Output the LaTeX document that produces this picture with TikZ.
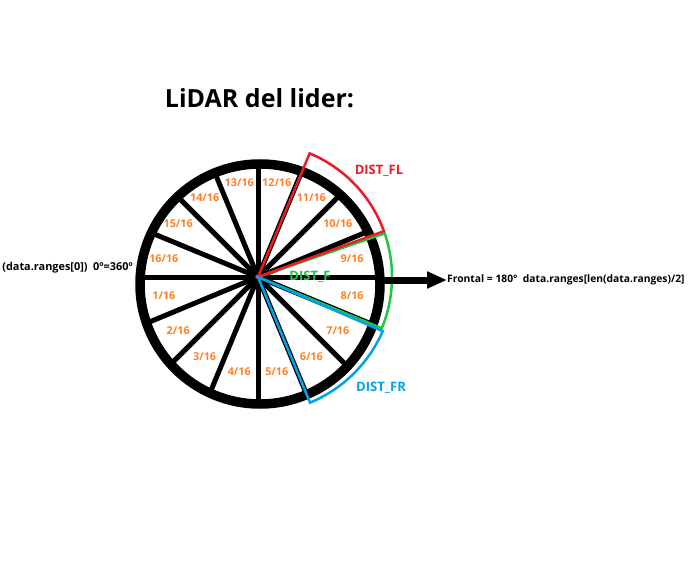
\documentclass[tikz,border=0pt]{standalone}
\usepackage{fontspec}
\setmainfont{Open Sans}
\usetikzlibrary{arrows.meta}
\definecolor{paintred}{RGB}{237,28,36}
\definecolor{paintgreen}{RGB}{34,197,70}
\definecolor{paintblue}{RGB}{0,162,232}
\definecolor{paintorange}{RGB}{255,127,39}
\tikzset{
    lidar/.style={x=1pt, y=1pt, >=Triangle},
    rim/.style={draw, line width=9.5pt},
    spoke/.style={line width=5pt},
    sectorlabel/.style={text=paintorange, font=\bfseries\fontsize{10.8}{12}\selectfont, inner sep=0pt},
    % outline of one detection zone
    zone/.style={line width=2.5pt, line join=miter},
    zonelabel/.style={font=\bfseries\fontsize{13}{15}\selectfont, inner sep=0pt},
    sidelabel/.style={font=\bfseries\fontsize{10.3}{12}\selectfont, inner sep=0pt},
}
\begin{document}
\begin{tikzpicture}[lidar]
    \useasboundingbox (0,0) rectangle (696,-564);
    \coordinate (hub)  at (258,-277);
    \coordinate (rimc) at (260,-284);
    \coordinate (rimr) at (384,-280);

    \node[anchor=base, font=\bfseries\fontsize{25}{30}\selectfont] (title) at (259.5,-108) {LiDAR del lider:};

    % spokes every 22.5 degrees
    \foreach \a in {0,22.5,...,337.5} {
        \pgfmathsetmacro{\len}{120+2*cos(\a)-7*sin(\a)}
        \draw[spoke] (hub) -- ++(\a:\len);
    }
    \draw[rim] (rimc) circle (120);

    \foreach \i in {1,...,16}
        \path (hub) ++({191.25+22.5*(\i-1)}:96) node[sectorlabel] (s\i) {\i/16};

    \draw[zone, paintgreen] (hub) -- ++(19:134) arc[start angle=19, end angle=-22.5, radius=134] -- cycle;
    \draw[zone, paintred]   (hub) -- ++(67.3:134) arc[start angle=67.3, end angle=20, radius=134] -- cycle;
    \draw[zone, paintblue]  (hub) -- ++(-23.5:136) arc[start angle=-23.5, end angle=-67.5, radius=136] -- cycle;

    \node[zonelabel, text=paintred]   (fl) at (379,-171) {DIST\_FL};
    \node[zonelabel, text=paintgreen] (f)  at (310,-277) {DIST\_F};
    \node[zonelabel, text=paintblue]  (fr) at (381,-388) {DIST\_FR};

    \node[sidelabel, anchor=east, font=\bfseries\fontsize{10.9}{12}\selectfont] (zero) at (133,-268) {(data.ranges[0])\ \ 0º=360º};
    \node[sidelabel, anchor=west] (front) at (447,-280) {Frontal = 180°\ \ data.ranges[len(data.ranges)/2]};

    \draw[->, line width=7pt, arrows={-Triangle[length=20pt, width=16pt]}] (rimr) -- (front.west);
\end{tikzpicture}
\end{document}
